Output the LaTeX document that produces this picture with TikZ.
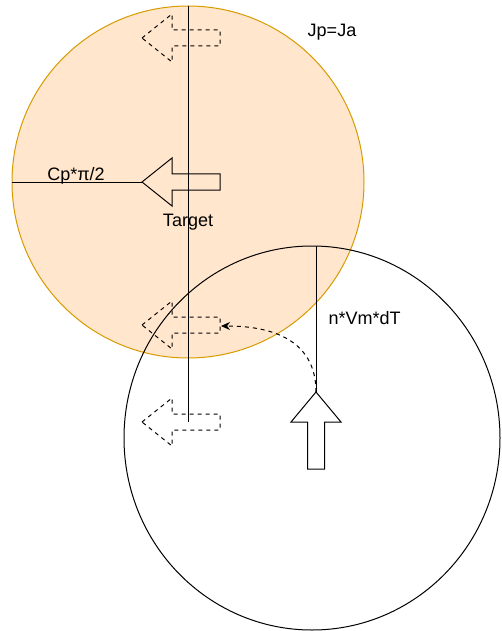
\documentclass[tikz,border=0pt]{standalone}
\usepackage{fontspec}
\setmainfont{Liberation Sans}
\usetikzlibrary{arrows.meta}
\definecolor{targetfill}{HTML}{FFE6CC}
\definecolor{targetedge}{HTML}{D79B00}
\begin{document}
\begin{tikzpicture}[x=1pt,y=-1pt,line width=1pt,
  font=\fontsize{18}{21}\selectfont,
  lbl/.style={inner sep=0pt},
  ghost/.style={dash pattern=on 4pt off 4pt},
  % block arrow pointing left, tip at the pic origin
  leftarrow/.pic={\draw[pic actions] (0,0) -- (30,-24) -- (30,-8) -- (78,-8) -- (78,8) -- (30,8) -- (30,24) -- cycle;},
  % block arrow pointing up, tip at the pic origin
  uparrow/.pic={\draw[pic actions] (0,0) -- (25,30) -- (8.5,30) -- (8.5,77) -- (-8.5,77) -- (-8.5,30) -- (-25,30) -- cycle;}]
\useasboundingbox (0,0) rectangle (501,631);

% target region and the pursuer's reachable region
\draw[targetedge,fill=targetfill] (188,182) circle[radius=176];
\draw (312,438) ellipse[x radius=188,y radius=192];

% key points
\coordinate (tTop) at (188,6);
\coordinate (tBot) at (188,422);
\coordinate (tLeft) at (12,182);
\coordinate (tTip) at (142,182);
\coordinate (pTop) at (316,246);
\coordinate (pTip) at (316,392);
\coordinate (gEnd) at (221,326);

% axes
\draw (tTop) -- (tBot);
\draw (tLeft) -- (tTip);
\draw (pTop) -- (pTip);

% target headings
\pic[ghost] at (142,38) {leftarrow};
\pic at (tTip) {leftarrow};
\pic[ghost] at (142,325) {leftarrow};
\pic[ghost] at (142,422) {leftarrow};

% pursuer heading
\pic at (pTip) {uparrow};

% turn towards the predicted position
\draw[ghost,-{Stealth[length=9pt,width=8pt]}] (pTip) .. controls (316,345) and (280,326) .. (gEnd);

% labels
\node[lbl] (jp) at (332,32) {Jp=Ja};
\node[lbl] (cp) at (76,175.5) {Cp*π/2};
\node[lbl] (tg) at (188,222) {Target};
\node[lbl,anchor=west] (nv) at (328,318.5) {n*Vm*dT};
\end{tikzpicture}
\end{document}
